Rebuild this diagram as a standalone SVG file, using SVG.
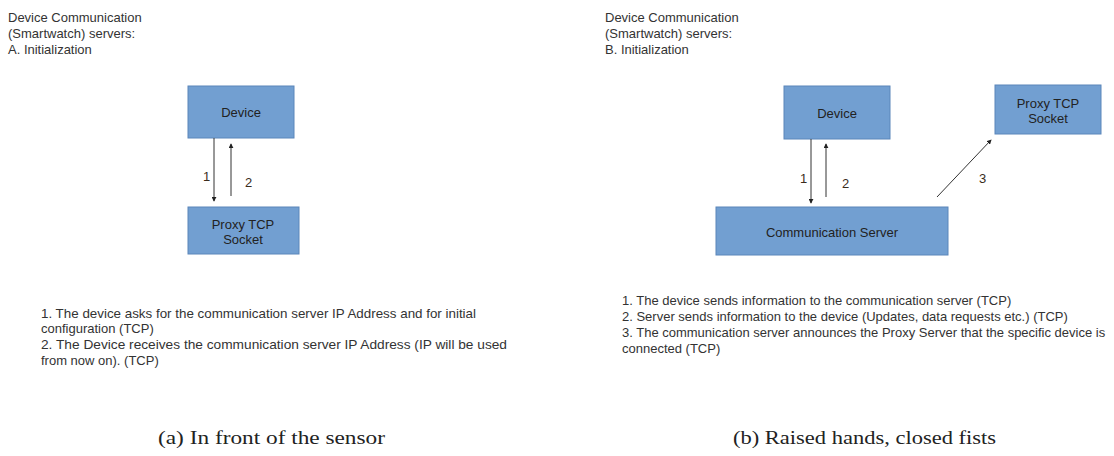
<svg xmlns="http://www.w3.org/2000/svg" width="1114" height="456" viewBox="0 0 1114 456">
<style>
.box{fill:#729fd1;stroke:#5b86ba;stroke-width:1}
.t{font-family:"Liberation Sans",Arial,sans-serif;font-size:13px;fill:#333}
.bt{font-family:"Liberation Sans",Arial,sans-serif;font-size:13px;fill:#222;text-anchor:middle}
.n{font-family:"Liberation Sans",Arial,sans-serif;font-size:13px;fill:#3a2c1c}
.cap{font-family:"Liberation Serif","Times New Roman",serif;font-size:18px;fill:#222}
.ln{stroke:#333;stroke-width:1;fill:none;marker-end:url(#ah)}
</style>
<defs>
<marker id="ah" viewBox="0 0 6 6" refX="5" refY="3" markerWidth="5" markerHeight="5" orient="auto" markerUnits="userSpaceOnUse">
<path d="M0,0 L6,3 L0,6 z" fill="#222"/>
</marker>
</defs>
<rect width="1114" height="456" fill="#fff"/>
<g id="title-a">
<text class="t" x="8" y="22">Device Communication</text>
<text class="t" x="8" y="38">(Smartwatch) servers:</text>
<text class="t" x="8" y="54">A. Initialization</text>
</g>
<g id="title-b">
<text class="t" x="605" y="22">Device Communication</text>
<text class="t" x="605" y="38">(Smartwatch) servers:</text>
<text class="t" x="605" y="54">B. Initialization</text>
</g>
<g id="a-device">
<rect class="box" x="188" y="86" width="106" height="52"/>
<text class="bt" x="241" y="117">Device</text>
</g>
<g id="a-proxy">
<rect class="box" x="188" y="207" width="111" height="47"/>
<text class="bt" x="243" y="229">Proxy TCP</text>
<text class="bt" x="243" y="244">Socket</text>
</g>
<g id="b-device">
<rect class="box" x="784" y="86" width="106" height="53"/>
<text class="bt" x="837" y="118">Device</text>
</g>
<g id="b-proxy">
<rect class="box" x="995" y="85" width="106" height="49"/>
<text class="bt" x="1048" y="108">Proxy TCP</text>
<text class="bt" x="1048" y="123">Socket</text>
</g>
<g id="b-server">
<rect class="box" x="716" y="207" width="232" height="48"/>
<text class="bt" x="832" y="237">Communication Server</text>
</g>
<g id="connectors">
<line class="ln" x1="214" y1="138" x2="214" y2="201"/>
<line class="ln" x1="231" y1="196" x2="231" y2="144"/>
<line class="ln" x1="811" y1="139" x2="811" y2="203"/>
<line class="ln" x1="826" y1="197" x2="826" y2="144"/>
<line class="ln" x1="937" y1="197" x2="991" y2="140"/>
<text class="n" x="203" y="181">1</text>
<text class="n" x="245" y="187">2</text>
<text class="n" x="800" y="183">1</text>
<text class="n" x="842" y="188">2</text>
<text class="n" x="979" y="183">3</text>
</g>
<g id="desc-a">
<text class="t" x="41" y="318" textLength="435" lengthAdjust="spacingAndGlyphs">1. The device asks for the communication server IP Address and for initial</text>
<text class="t" x="41" y="333">configuration (TCP)</text>
<text class="t" x="41" y="349" textLength="466" lengthAdjust="spacingAndGlyphs">2. The Device receives the communication server IP Address (IP will be used</text>
<text class="t" x="41" y="365">from now on). (TCP)</text>
</g>
<g id="desc-b">
<text class="t" x="622" y="305">1. The device sends information to the communication server (TCP)</text>
<text class="t" x="622" y="321">2. Server sends information to the device (Updates, data requests etc.) (TCP)</text>
<text class="t" x="622" y="337">3. The communication server announces the Proxy Server that the specific device is</text>
<text class="t" x="622" y="353">connected (TCP)</text>
</g>
<g id="captions">
<text class="cap" x="158" y="444" textLength="227" lengthAdjust="spacingAndGlyphs">(a)  In front of the sensor</text>
<text class="cap" x="733" y="444" textLength="263" lengthAdjust="spacingAndGlyphs">(b)  Raised hands, closed fists</text>
</g>
</svg>
